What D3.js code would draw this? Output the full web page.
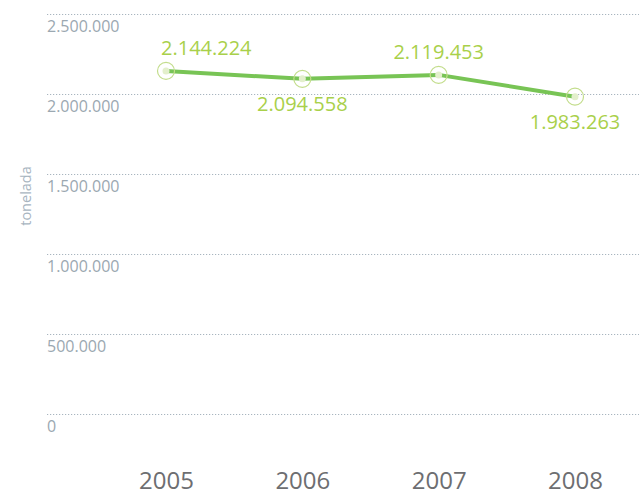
<!DOCTYPE html>
<html><head><meta charset="utf-8">
<script src="https://cdn.jsdelivr.net/npm/d3@7"></script>
<style>body{margin:0;background:#fff}svg{display:block}</style>
</head><body>
<svg id="c" width="639" height="496"></svg>
<script>
const years = ["2005","2006","2007","2008"];
const values = [2144224, 2094558, 2119453, 1983263];
const valueLabels = ["2.144.224","2.094.558","2.119.453","1.983.263"];
const yTicks = [0, 500000, 1000000, 1500000, 2000000, 2500000];
const yTickLabels = ["0","500.000","1.000.000","1.500.000","2.000.000","2.500.000"];
const yTitle = "tonelada";

const svg = d3.select("#c");
const font = "'Open Sans', 'Noto Sans', sans-serif";
const x = d3.scalePoint().domain(years).range([166, 575]);
const y = d3.scaleLinear().domain([0, 2500000]).range([414, 14]);

// grid
const g = svg.append("g");
g.selectAll("line").data(yTicks).join("line")
  .attr("x1", 47).attr("x2", 639)
  .attr("y1", d => Math.round(y(d)) + 0.5).attr("y2", d => Math.round(y(d)) + 0.5)
  .attr("stroke", "#a8b5bf").attr("stroke-width", 1.2).attr("stroke-dasharray", "1.2,1.8");
g.selectAll("text").data(yTicks).join("text")
  .attr("x", 47).attr("y", d => y(d) + 18)
  .attr("font-family", font).attr("font-size", 16).attr("fill", "#9ba8b1")
  .text((d, i) => yTickLabels[i]);

svg.append("text")
  .attr("transform", "translate(31,196) rotate(-90)")
  .attr("text-anchor", "middle").attr("font-family", font).attr("font-size", 14.5)
  .attr("fill", "#a8b5bf").text(yTitle);

// x axis labels
const xAxis = d3.axisBottom(x).tickSize(0).tickPadding(0);
const ax = svg.append("g").attr("transform", "translate(0,489)").call(xAxis);
ax.select(".domain").remove();
ax.selectAll("text").attr("font-family", font).attr("font-size", 24).attr("fill", "#6d6e71").attr("dy", "0");

// line
const line = d3.line().x((d, i) => x(years[i])).y(d => y(d));
svg.append("path").datum(values).attr("d", line)
  .attr("fill", "none").attr("stroke", "#78c455").attr("stroke-width", 4).attr("stroke-linejoin", "round");

const pts = svg.append("g").selectAll("g").data(values).join("g")
  .attr("transform", (d, i) => `translate(${x(years[i])},${y(d)})`);
pts.append("circle").attr("r", 8.5).attr("fill", "none").attr("stroke", "#c3dd8c").attr("stroke-width", 1.2);
pts.append("circle").attr("r", 3.5).attr("fill", "#e3efcc");

pts.append("text")
  .attr("x", (d, i) => i === 0 ? -5 : 0)
  .attr("y", (d, i) => i % 2 === 0 ? -16 : 32)
  .attr("text-anchor", (d, i) => i === 0 ? "start" : "middle")
  .attr("font-family", font).attr("font-size", 20).attr("fill", "#a9d04a")
  .text((d, i) => valueLabels[i]);
</script>
</body></html>
